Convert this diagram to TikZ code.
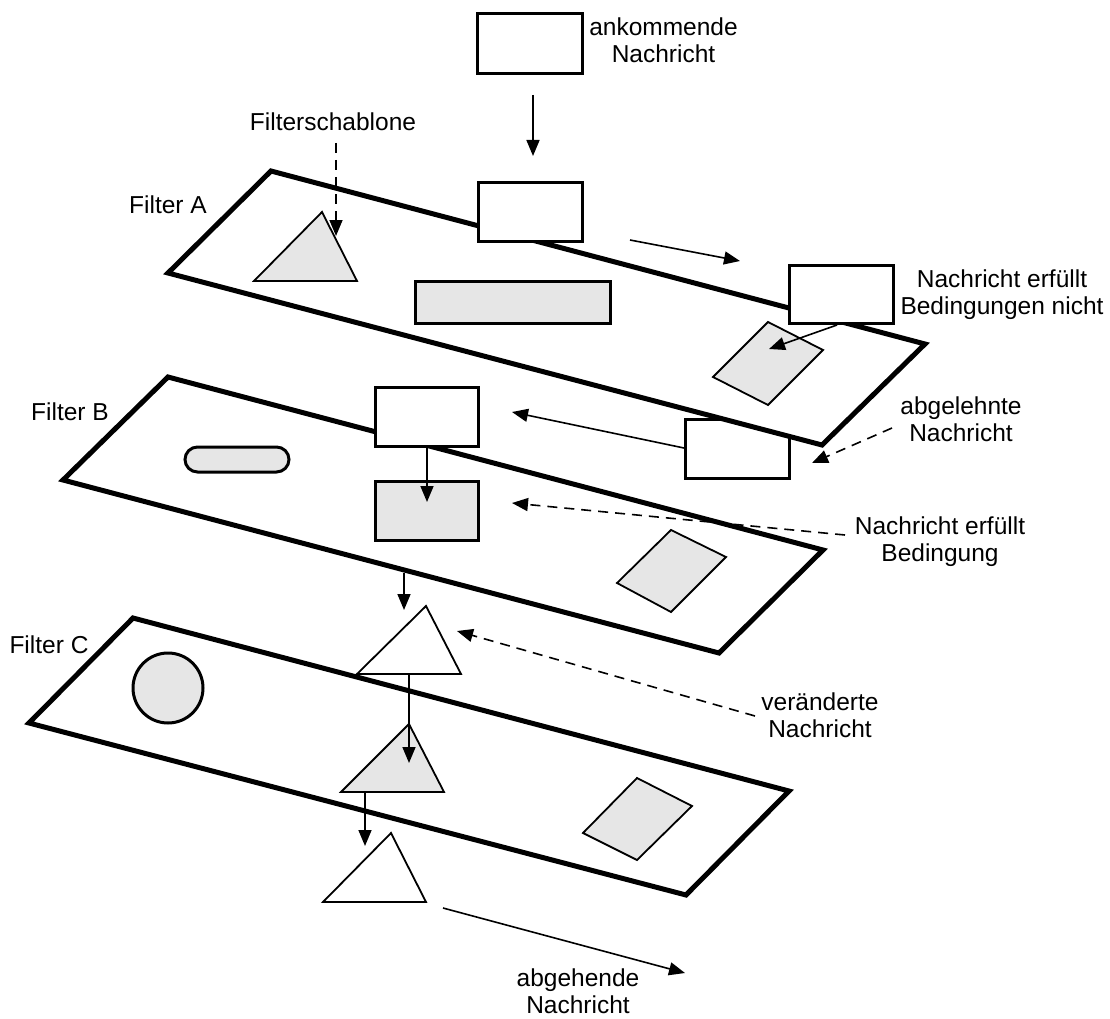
\documentclass[tikz,border=0pt]{standalone}
\usepackage{fontspec}
\setmainfont{Liberation Sans}
\usetikzlibrary{arrows.meta}
\definecolor{lgray}{HTML}{E6E6E6}
\tikzset{
  plate/.style={draw=black, line width=5pt, fill=white, line join=miter},
  msgbox/.style={draw=black, line width=3pt, fill=white, minimum width=104pt, minimum height=58pt, inner sep=0pt},
  graybox/.style={msgbox, fill=lgray},
  thinshape/.style={draw=black, line width=1.8pt, line join=miter},
  thickshape/.style={draw=black, line width=3pt, fill=lgray},
  arr/.style={line width=1.6pt, -{Triangle[length=16pt,width=13pt]}},
  darr/.style={arr, dash pattern=on 10pt off 7pt},
  lbl/.style={font=\fontsize{24.5}{27}\selectfont, align=center, inner sep=0pt}
}
\begin{document}
\begin{tikzpicture}[x=1pt,y=-1pt]
\useasboundingbox (0,0) rectangle (1110,1019);

% ---------- Filter C ----------
\draw[plate] (133,618) -- (789,791) -- (686,895) -- (29,723) -- cycle;
\draw[thickshape] (168,688) circle (35);
\draw[thinshape, fill=lgray] (637,778) -- (692,806) -- (637,860) -- (583,833) -- cycle;
\draw[thinshape, fill=white] (426,606) -- (461,674) -- (357,674) -- cycle;
\draw[thinshape, fill=lgray] (409,724) -- (444,792) -- (341,792) -- cycle;
\draw[thinshape, fill=white] (391,833) -- (426,902) -- (323,902) -- cycle;
\coordinate (c1s) at (409,674);
\coordinate (c1e) at (409,763);
\coordinate (c2s) at (365,792);
\coordinate (c2e) at (365,846);
\coordinate (c3s) at (443,908);
\coordinate (c3e) at (685,973);
\draw[arr] (c1s) -- (c1e);
\draw[arr] (c2s) -- (c2e);
\draw[arr] (c3s) -- (c3e);

% ---------- Filter B ----------
\draw[plate] (168,377) -- (823,550) -- (719,653) -- (63,480) -- cycle;
\draw[thickshape, rounded corners=12.5pt] (185,447) rectangle (289,472);
\draw[thinshape, fill=lgray] (671,530) -- (726,557) -- (671,612) -- (617,583) -- cycle;
\node[msgbox, minimum width=103pt, minimum height=59pt] (b1) at (426.5,416.5) {};
\node[graybox, minimum width=103pt, minimum height=59pt] (b2) at (426.5,510.5) {};
\coordinate (b1s) at (427,446);
\coordinate (b1e) at (427,502);
\draw[arr] (b1s) -- (b1e);
\coordinate (bcs) at (404,573);
\coordinate (bce) at (404,610);
\draw[arr] (bcs) -- (bce);

% rejected message box (behind plate A)
\node[msgbox, minimum width=104pt, minimum height=59pt] (rej) at (737,448.5) {};

% ---------- Filter A ----------
\draw[plate] (271,171) -- (925,344) -- (822,445) -- (168,273) -- cycle;
\draw[thinshape, fill=lgray] (322,212) -- (357,281) -- (254,281) -- cycle;
\draw[thickshape] (415,281) rectangle (610,323);
\draw[thinshape, fill=lgray] (768,322) -- (823,350) -- (768,405) -- (713,377) -- cycle;
\node[msgbox] (a1) at (530,212) {};
\node[msgbox] (a2) at (841,294) {};

% incoming message
\node[msgbox, minimum width=105pt, minimum height=60pt] (in) at (529.5,44) {};

% ---------- arrows ----------
\coordinate (ins) at (533,95);
\coordinate (ine) at (533,156);
\draw[arr] (ins) -- (ine);
\coordinate (a1s) at (630,240);
\coordinate (a1e) at (740,261);
\draw[arr] (a1s) -- (a1e);
\coordinate (a2s) at (837,325);
\coordinate (a2e) at (769,349);
\draw[arr] (a2s) -- (a2e);
\coordinate (rejs) at (684,448);
\coordinate (reje) at (512,412);
\draw[arr] (rejs) -- (reje);

% ---------- labels ----------
\node[lbl] (tin) at (663.5,40) {ankommende\\Nachricht};
\node[lbl] (tschab) at (333,122) {Filterschablone};
\node[lbl] (tfa) at (168,205) {Filter A};
\node[lbl] (tfb) at (70,412) {Filter B};
\node[lbl] (tfc) at (49,645) {Filter C};
\node[lbl] (tnot) at (1002,295) {Nachricht erfüllt\\Bedingungen nicht};
\node[lbl] (trej) at (961,419) {abgelehnte\\Nachricht};
\node[lbl] (tok) at (940,542) {Nachricht erfüllt\\Bedingung};
\node[lbl] (tmod) at (820,715) {veränderte\\Nachricht};
\node[lbl] (tout) at (578,991) {abgehende\\Nachricht};

% dashed pointers
\coordinate (fs) at (336,143);
\coordinate (fe) at (336,236);
\draw[darr] (fs) -- (fe);
\coordinate (rjs) at (892,428);
\coordinate (rje) at (812,463);
\draw[darr] (rjs) -- (rje);
\coordinate (oks) at (845,535);
\coordinate (oke) at (512,503);
\draw[darr] (oks) -- (oke);
\coordinate (mds) at (755,716);
\coordinate (mde) at (457,631);
\draw[darr] (mds) -- (mde);
\end{tikzpicture}
\end{document}
